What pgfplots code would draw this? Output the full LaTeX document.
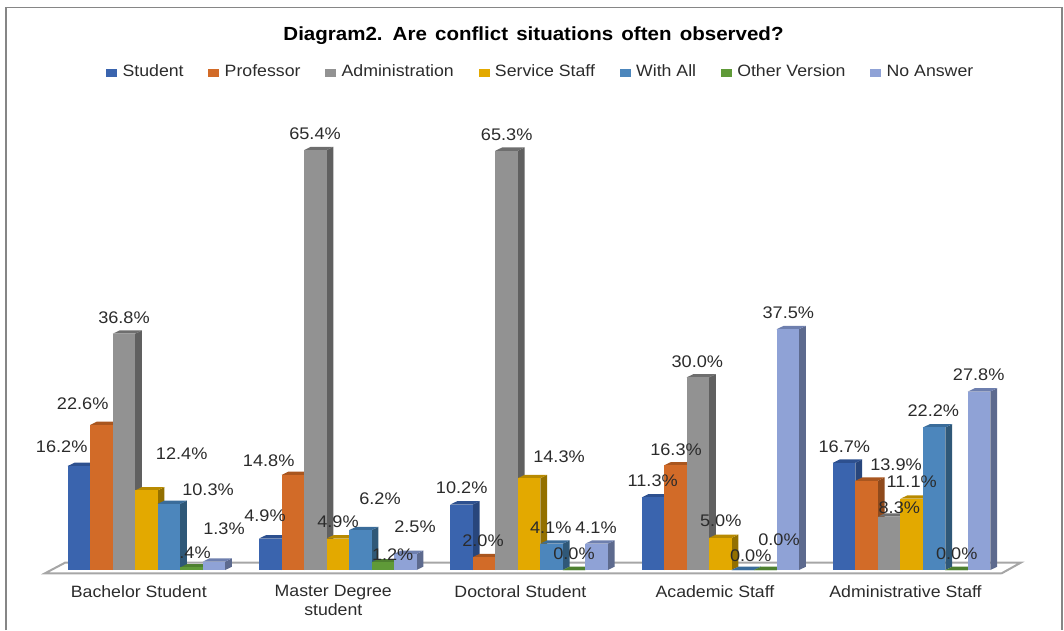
\documentclass[border=0pt]{standalone}
\usepackage{fontspec}
\setmainfont[FakeStretch=1.08]{Liberation Sans}
\usepackage{pgfplots}
\pgfplotsset{compat=1.18}
\definecolor{txt}{HTML}{2B2B2B}
\definecolor{cA}{HTML}{3A64AE}\definecolor{cAs}{HTML}{28467C}\definecolor{cAt}{HTML}{2D508F}
\definecolor{cB}{HTML}{D26B28}\definecolor{cBs}{HTML}{8F4A1C}\definecolor{cBt}{HTML}{A9561F}
\definecolor{cC}{HTML}{929292}\definecolor{cCs}{HTML}{606060}\definecolor{cCt}{HTML}{6E6E6E}
\definecolor{cD}{HTML}{E3A900}\definecolor{cDs}{HTML}{937000}\definecolor{cDt}{HTML}{B88A00}
\definecolor{cE}{HTML}{4C86BC}\definecolor{cEs}{HTML}{2F5878}\definecolor{cEt}{HTML}{3A6C9A}
\definecolor{cF}{HTML}{5F9A38}\definecolor{cFs}{HTML}{3F6826}\definecolor{cFt}{HTML}{4E8030}
\definecolor{cG}{HTML}{8FA2D6}\definecolor{cGs}{HTML}{5D6A8E}\definecolor{cGt}{HTML}{6E7FAE}
\definecolor{frm}{HTML}{868686}
\newcommand{\tbar}[4]{% group, slot, value, colour
  \pgfmathsetmacro{\xa}{#1-0.3816+#2*0.11762}
  \pgfmathsetmacro{\xb}{\xa+0.11762}
  \pgfmathsetmacro{\xc}{\xb+0.0355}
  \pgfmathsetmacro{\xd}{\xa+0.0355}
  \pgfmathsetmacro{\yt}{#3+0.514}
  \addplot[forget plot,fill=#4s,draw=none] coordinates {(\xb,0)(\xc,0.514)(\xc,\yt)(\xb,#3)};
  \addplot[forget plot,fill=#4t,draw=none] coordinates {(\xa,#3)(\xb,#3)(\xc,\yt)(\xd,\yt)};
  \addplot[forget plot,fill=#4,draw=none] coordinates {(\xa,0)(\xb,0)(\xb,#3)(\xa,#3)};
}
\newcommand{\tseries}[7]{\tbar{0}{#1}{#3}{#2}\tbar{1}{#1}{#4}{#2}\tbar{2}{#1}{#5}{#2}\tbar{3}{#1}{#6}{#2}\tbar{4}{#1}{#7}{#2}}
\newcommand{\lab}[3]{\node[font=\fontsize{16.8}{18}\selectfont,text=txt,inner sep=0pt] at (#1pt,630pt-#2pt) {#3\%};}
\pgfplotsset{lgd/.style={legend image code/.code={\fill[#1] (0pt,-3.5pt) rectangle (10pt,3.5pt);}}}
\begin{document}
\begin{tikzpicture}
\path[use as bounding box] (0,0) rectangle (1064pt,630pt);
\draw[frm,line width=1.4pt] (6pt,0pt) -- (6pt,622.5pt) -- (1062pt,622.5pt) -- (1062pt,0pt);
\begin{axis}[
  at={(0pt,56.7pt)},anchor=south west,scale only axis,
  width=1064pt,height=573.3pt,
  xmin=-0.7355,xmax=4.8265,ymin=-0.514,ymax=88.785,
  clip=false,axis line style={draw=none},
  xtick={-0.0099,1.0068,1.985,3.002,3.998},ytick=\empty,major tick length=0pt,
  xticklabels={Bachelor Student,Master Degree\\student,Doctoral Student,Academic Staff,Administrative Staff},
  xticklabel style={font=\fontsize{16.4}{19}\selectfont,text=txt,align=center,inner sep=0pt,yshift=-12pt},
  title={\spaceskip=8.2pt Diagram2. Are conflict situations often observed?},
  title style={at={(axis description cs:0.5014,0.9424)},anchor=center,inner sep=0pt,yshift=-9pt,
    font=\fontsize{19}{21}\selectfont\bfseries,text=black},
  legend columns=7,
  legend style={at={(axis description cs:0.0996,0.8735)},anchor=west,draw=none,fill=none,inner sep=0pt,
    font=\fontsize{16.4}{18}\selectfont,text=txt,
    nodes={inner sep=0pt,text height=12pt,text depth=3.5pt},
    /tikz/every odd column/.append style={column sep=6pt},
    /tikz/every even column/.append style={column sep=24.7pt}},
  legend cell align=left,
]
\addplot[forget plot,fill=white,draw=none] coordinates {(-0.5,-0.514)(-0.3957,1.137)(4.600,1.137)(4.5008,-0.514)};
\addplot[forget plot,draw=black!35,line width=2pt,no markers] coordinates {(4.5008,-0.514)(-0.5003,-0.514)(-0.3957,1.137)(4.600,1.137)(4.5008,-0.514)};
\tseries{0}{cA}{16.2}{4.9}{10.2}{11.3}{16.7}
\tseries{1}{cB}{22.6}{14.8}{2.0}{16.3}{13.9}
\tseries{2}{cC}{36.8}{65.4}{65.3}{30.0}{8.3}
\tseries{3}{cD}{12.4}{4.9}{14.3}{5.0}{11.1}
\tseries{4}{cE}{10.3}{6.2}{4.1}{0}{22.2}
\tseries{5}{cF}{0.4}{1.2}{0}{0}{0}
\tseries{6}{cG}{1.3}{2.5}{4.1}{37.5}{27.8}
\addlegendimage{lgd=cA}\addlegendentry{Student}
\addlegendimage{lgd=cB}\addlegendentry{Professor}
\addlegendimage{lgd=cC}\addlegendentry{Administration}
\addlegendimage{lgd=cD}\addlegendentry{Service Staff}
\addlegendimage{lgd=cE}\addlegendentry{With All}
\addlegendimage{lgd=cF}\addlegendentry{Other Version}
\addlegendimage{lgd=cG}\addlegendentry{No Answer}
\end{axis}
\lab{61.7}{446.7}{16.2}\lab{82.7}{404}{22.6}\lab{124}{317.3}{36.8}\lab{181.7}{454}{12.4}\lab{208}{490}{10.3}\lab{195}{552.7}{.4}\lab{224}{529}{1.3}
\lab{265}{516}{4.9}\lab{268.7}{460.7}{14.8}\lab{315}{133.3}{65.4}\lab{338}{521.7}{4.9}\lab{380}{499}{6.2}\lab{392.7}{555}{1.2}\lab{415}{527}{2.5}
\lab{461.7}{487.3}{10.2}\lab{483}{540.7}{2.0}\lab{506.7}{134.3}{65.3}\lab{559}{456.7}{14.3}\lab{550.7}{527.3}{4.1}\lab{574}{554}{0.0}\lab{596}{527.3}{4.1}
\lab{652.7}{481}{11.3}\lab{676}{450}{16.3}\lab{697.3}{361.3}{30.0}\lab{720.7}{520.7}{5.0}\lab{750.7}{556}{0.0}\lab{779}{539.3}{0.0}\lab{788.3}{312.7}{37.5}
\lab{844.3}{446.7}{16.7}\lab{896}{464.3}{13.9}\lab{899.3}{507.3}{8.3}\lab{911.7}{482}{11.1}\lab{933.3}{410.7}{22.2}\lab{956.7}{554}{0.0}\lab{978.7}{375}{27.8}
\end{tikzpicture}
\end{document}
